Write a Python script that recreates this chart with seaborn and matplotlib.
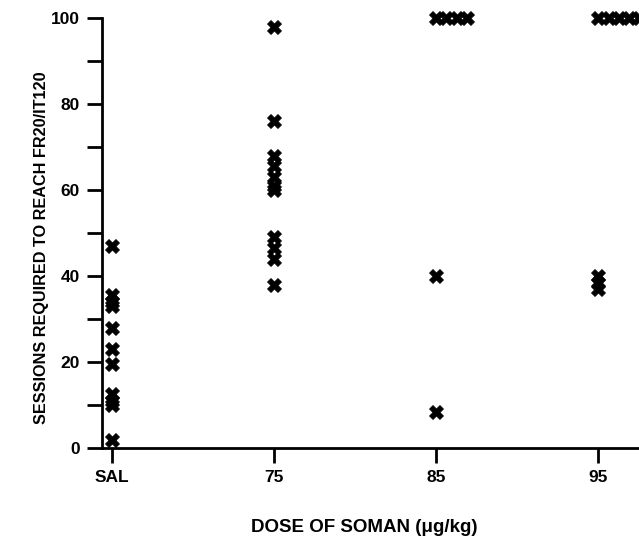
import numpy as np
import pandas as pd
import matplotlib
matplotlib.use("Agg")
import matplotlib.pyplot as plt
import seaborn as sns
from matplotlib.ticker import MultipleLocator

# ---- data ----
dose_labels = ["SAL", "75", "85", "95"]
sal_sessions = [47, 35.5, 34, 33, 28, 23, 19.5, 12.5, 11, 10, 2]
d75_sessions = [98, 76, 68, 65.5, 63, 61, 60, 49, 46.5, 44, 38]
d85_sessions = [100, 100, 100, 100, 40, 8.5]
d95_sessions = [100, 100, 100, 100, 100, 40, 38.5, 37]
y_ticks = [0, 20, 40, 60, 80, 100]

groups = [sal_sessions, d75_sessions, d85_sessions, d95_sessions]
ceiling_step = 0.062  # horizontal spread of animals that hit the 100-session ceiling

rows = []
for gi, (lab, vals) in enumerate(zip(dose_labels, groups)):
    k = 0
    for v in vals:
        x = gi
        if v >= 100:
            x = gi + k * ceiling_step
            k += 1
        rows.append({"dose": lab, "pos": x, "sessions": v})
df = pd.DataFrame(rows)

sns.set_style("ticks")
plt.rcParams["font.family"] = ["Liberation Sans", "DejaVu Sans"]
plt.rcParams["font.weight"] = "bold"

fig = plt.figure(figsize=(6.39, 5.44), dpi=100)
ax = fig.add_axes([0.16, 0.176, 0.84, 0.791])

sns.scatterplot(data=df, x="pos", y="sessions", marker="X", s=100,
                color="black", edgecolor="black", linewidth=0.6,
                ax=ax, clip_on=False, legend=False)

ax.set_xlim(-0.062, 3.25)
ax.set_ylim(0, 100)
ax.set_xticks(range(len(dose_labels)))
ax.set_xticklabels(dose_labels)
ax.set_yticks(y_ticks)
ax.yaxis.set_minor_locator(MultipleLocator(10))

for s in ["top", "right"]:
    ax.spines[s].set_visible(False)
for s in ["left", "bottom"]:
    ax.spines[s].set_linewidth(2)
    ax.spines[s].set_color("black")

ax.tick_params(axis="both", which="major", length=11, width=2, colors="black",
               labelsize=12.5, pad=5)
ax.tick_params(axis="y", which="minor", length=11, width=2, colors="black")
for lbl in ax.get_xticklabels() + ax.get_yticklabels():
    lbl.set_fontweight("bold")

ax.set_xlabel("DOSE OF SOMAN (μg/kg)", fontsize=13.5, fontweight="bold",
              color="black")
ax.set_ylabel("SESSIONS REQUIRED TO REACH FR20/IT120", fontsize=11.7,
              fontweight="bold", color="black")
ax.xaxis.set_label_coords(0.488, -0.165)
ax.yaxis.set_label_coords(-0.1, 0.465)

fig.savefig("out.png", dpi=100)
